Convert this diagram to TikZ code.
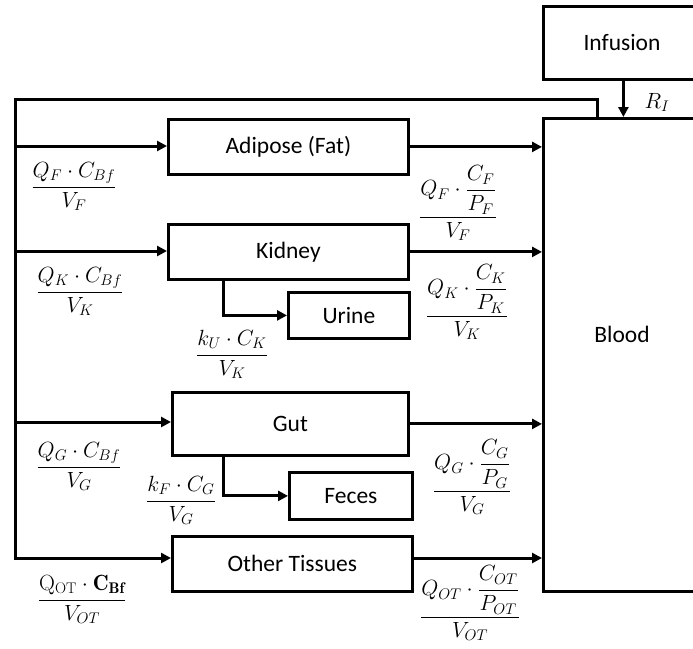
\RequirePackage{fix-cm}
\documentclass[tikz,border=0pt]{standalone}
\usepackage{amsmath}
\usepackage{fontspec}
\newfontfamily\boxfont{Carlito}
\usetikzlibrary{arrows.meta}
\tikzset{
  box/.style={draw, line width=2.8pt, inner sep=0pt, anchor=north west,
    font=\boxfont\fontsize{23.5}{28}\selectfont},
  txt/.style={inner sep=0pt, font=\boxfont\fontsize{23.5}{28}\selectfont},
  flow/.style={line width=3pt, line join=miter, -{Triangle[length=10pt,width=10pt]}},
  plain/.style={line width=3pt, line join=miter},
  lab/.style={anchor=base, inner sep=0pt, font=\fontsize{22}{26}\selectfont}
}
\begin{document}
\begin{tikzpicture}[x=1pt,y=-1pt]
\clip (0,0) rectangle (693,648);
\fill[white] (0,0) rectangle (693,648);

% boxes
\node[box, minimum width=160pt, minimum height=73pt] (inf) at (542,5) {};
\node[txt] (inftxt) at (622,43) {Infusion};
\node[box, minimum width=160pt, minimum height=473pt] (blood) at (542,117) {};
\node[txt] (bloodtxt) at (622,334) {Blood};
\node[box, minimum width=240pt, minimum height=55pt] (fat) at (167,118) {Adipose (Fat)};
\node[box, minimum width=240pt, minimum height=55pt] (kid) at (167,223) {Kidney};
\node[box, minimum width=121pt, minimum height=46pt] (urine) at (287,291) {Urine};
\node[box, minimum width=236pt, minimum height=63pt] (gut) at (171,391) {Gut};
\node[box, minimum width=123pt, minimum height=47pt] (feces) at (288,471) {Feces};
\node[box, minimum width=240pt, minimum height=55pt] (ot) at (171,535) {Other Tissues};

% coordinates
\coordinate (ret) at (597,99);
\coordinate (ctop) at (15,99);
\coordinate (tr1) at (15,146);
\coordinate (tr2) at (15,251);
\coordinate (tr3) at (15,422);
\coordinate (tr4) at (15,558);
\coordinate (drop) at (223,0);

% return trunk
\draw[flow] (ret |- blood.north) -- (ret) -- (ctop) -- (tr4) -- (tr4 -| ot.west);
\draw[flow] (tr1) -- (tr1 -| fat.west);
\draw[flow] (tr2) -- (tr2 -| kid.west);
\draw[flow] (tr3) -- (tr3 -| gut.west);

% to blood
\draw[flow] (fat.east) -- (fat.east -| blood.west);
\draw[flow] (kid.east) -- (kid.east -| blood.west);
\draw[flow] (gut.east) -- (gut.east -| blood.west);
\draw[flow] (tr4 -| ot.east) -- (tr4 -| blood.west);

% infusion
\draw[flow] (inf.south) -- (inf.south |- blood.north);
\node[lab] (ri) at (657,108) {$R_I$};

% excretion
\draw[flow] (kid.south -| drop) |- (urine.west);
\draw[flow] (gut.south -| drop) |- (feces.west);

% labels
\node[lab] (lf) at (74,192.5) {$\dfrac{Q_F\cdot C_{Bf}}{V_F}$};
\node[lab] (rf) at (458,222.5) {$\dfrac{Q_F\cdot\dfrac{C_F}{P_F}}{V_F}$};
\node[lab] (lk) at (80,297.5) {$\dfrac{Q_K\cdot C_{Bf}}{V_K}$};
\node[lab] (rk) at (467,321.5) {$\dfrac{Q_K\cdot\dfrac{C_K}{P_K}}{V_K}$};
\node[lab] (lu) at (232,360.5) {$\dfrac{k_U\cdot C_K}{V_K}$};
\node[lab] (lg) at (79,472.5) {$\dfrac{Q_G\cdot C_{Bf}}{V_G}$};
\node[lab] (lfe) at (181,506.5) {$\dfrac{k_F\cdot C_G}{V_G}$};
\node[lab] (rg) at (472,496.5) {$\dfrac{Q_G\cdot\dfrac{C_G}{P_G}}{V_G}$};
\node[lab] (lot) at (82,605.5) {$\dfrac{\mathrm{Q}_{\mathrm{OT}}\cdot\mathbf{C}_{\mathbf{Bf}}}{V_{OT}}$};
\node[lab] (rot) at (470,622.5) {$\dfrac{Q_{OT}\cdot\dfrac{C_{OT}}{P_{OT}}}{V_{OT}}$};
\end{tikzpicture}
\end{document}
